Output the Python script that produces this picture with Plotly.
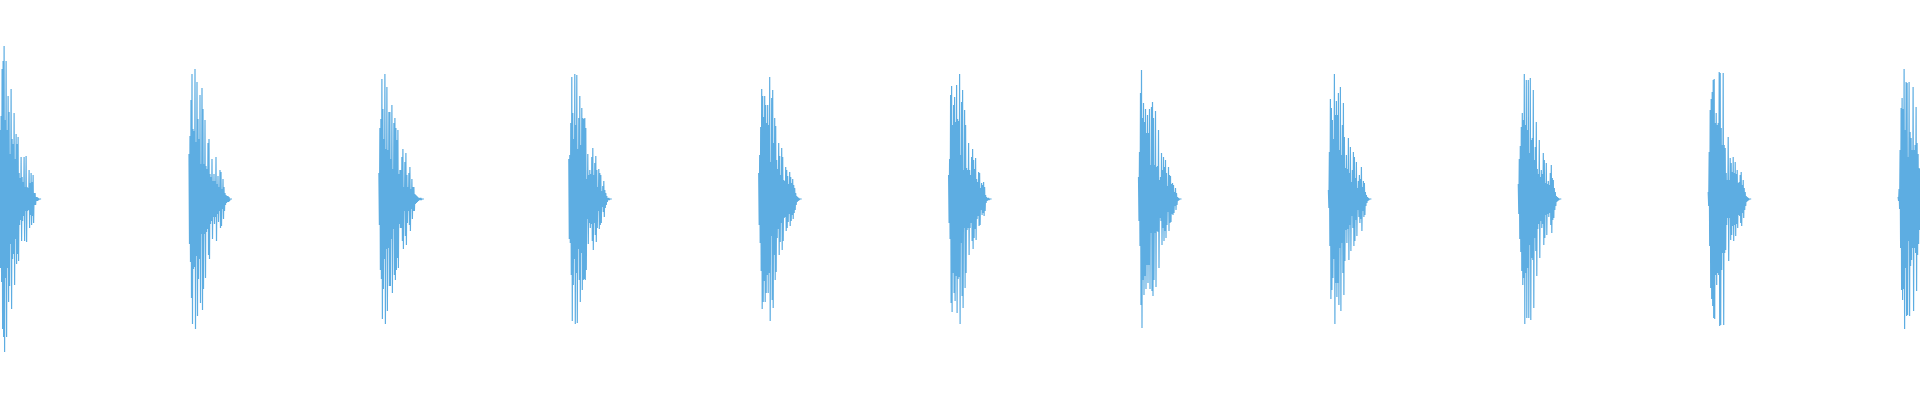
import plotly.graph_objects as go

# Waveform bursts: peak amplitude per sample column (symmetric +/-)
burst_onsets = [0.0, 1.0, 2.0, 3.0, 4.0, 5.0, 6.0, 7.0, 8.0, 9.0, 10.0]  # seconds
column_step = 1 / 189.9  # seconds per sample column

burst_1 = [60, 69, 83, 130, 138, 153, 79, 138, 69, 103, 87, 45, 110, 60, 55, 86, 40, 65, 55, 62,
           26, 21, 42, 22, 17, 42, 12, 43, 12, 11, 29, 16, 26, 17, 24, 6, 6, 2, 2, 1]
burst_2 = [45, 63, 99, 125, 70, 68, 130, 57, 117, 80, 60, 104, 35, 111, 90, 35, 79, 33, 30, 56,
           60, 25, 22, 40, 18, 25, 18, 42, 15, 23, 12, 29, 27, 10, 20, 12, 6, 4, 3, 3, 2]
burst_3 = [26, 71, 80, 120, 90, 60, 125, 50, 112, 49, 87, 87, 40, 94, 30, 76, 81, 71, 59, 69,
           25, 29, 29, 42, 50, 12, 37, 46, 24, 12, 26, 32, 10, 20, 12, 12, 5, 4, 3, 2, 1, 1, 1]
burst_4 = [40, 44, 76, 122, 86, 60, 125, 74, 124, 50, 81, 103, 54, 91, 81, 80, 81, 71, 20, 45,
           24, 29, 25, 42, 51, 24, 36, 43, 29, 12, 30, 26, 24, 8, 13, 18, 9, 6, 3, 1, 1]
burst_5 = [26, 44, 72, 110, 103, 82, 103, 94, 76, 94, 74, 122, 37, 101, 109, 56, 81, 73, 39, 30,
           56, 43, 24, 51, 42, 19, 18, 32, 29, 23, 15, 27, 22, 16, 20, 14, 11, 6, 3, 2, 1]
burst_6 = [24, 40, 104, 113, 74, 94, 102, 77, 114, 80, 78, 125, 44, 97, 109, 29, 89, 74, 31, 29,
           56, 29, 24, 42, 50, 39, 30, 41, 20, 17, 27, 26, 11, 16, 14, 17, 12, 4, 2, 1, 1]
burst_7 = [22, 47, 106, 129, 81, 96, 77, 90, 66, 84, 66, 90, 34, 92, 97, 81, 34, 88, 32, 33,
           69, 19, 22, 46, 29, 42, 32, 39, 26, 13, 32, 24, 23, 15, 16, 14, 7, 11, 6, 2, 1]
burst_8 = [9, 47, 100, 91, 79, 60, 125, 84, 98, 84, 106, 49, 112, 44, 74, 96, 62, 31, 44, 30,
           61, 26, 52, 17, 29, 47, 42, 21, 37, 11, 18, 24, 20, 32, 12, 18, 16, 7, 4, 2, 1]
burst_9 = [15, 40, 53, 72, 86, 79, 125, 74, 119, 69, 119, 46, 121, 59, 61, 109, 39, 52, 77, 30,
           25, 59, 22, 29, 25, 46, 39, 16, 36, 15, 18, 14, 26, 34, 21, 19, 11, 7, 3, 2, 1]
burst_10 = [7, 47, 89, 100, 107, 119, 120, 76, 86, 74, 76, 127, 126, 71, 54, 126, 54, 51, 26, 19,
            62, 19, 41, 36, 27, 42, 26, 37, 25, 29, 16, 17, 24, 27, 14, 19, 11, 7, 3, 2, 1]
burst_11 = [2, 10, 49, 91, 101, 90, 130, 69, 117, 116, 42, 117, 67, 61, 49, 112, 49, 54, 92, 56,
            45, 31, 30, 28, 20, 15, 10, 6, 3, 1]

bursts = [burst_1, burst_2, burst_3, burst_4, burst_5, burst_6,
          burst_7, burst_8, burst_9, burst_10, burst_11]

# starting offset of the first burst relative to the left edge (seconds)
first_onset_shift = -0.9 / 189.9

xs, ys = [], []
for onset, amps in zip(burst_onsets, bursts):
    t0 = onset + first_onset_shift
    for j, a in enumerate(amps):
        t = t0 + j * column_step
        xs.extend([t, t + column_step / 2])
        ys.extend([a, -a])
    t_end = t0 + len(amps) * column_step
    xs.extend([t_end, t_end + column_step * 2, None])
    ys.extend([0, 0, None])

fig = go.Figure(
    go.Scatter(
        x=xs, y=ys, mode="lines",
        line=dict(color="#5dade2", width=1.2, simplify=False),
        connectgaps=False, hoverinfo="skip",
    )
)

fig.update_layout(
    width=1920, height=400,
    margin=dict(l=0, r=0, t=0, b=0),
    paper_bgcolor="white", plot_bgcolor="white",
    showlegend=False,
    xaxis=dict(visible=False, range=[0, 1920 / 189.9], fixedrange=True),
    yaxis=dict(visible=False, range=[-201, 199], fixedrange=True),
)

fig.write_html(
    "out.html",
    config={"displayModeBar": False},
    post_script="document.body.style.margin='0';document.body.style.overflow='hidden';",
)
